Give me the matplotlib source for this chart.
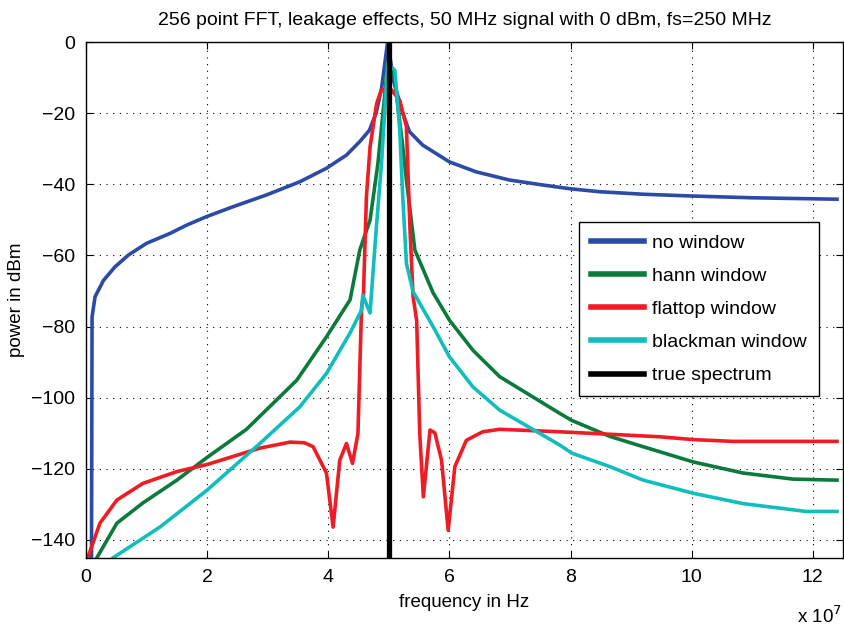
import matplotlib
matplotlib.use("Agg")
from matplotlib import pyplot as plt

plt.rcParams['font.family'] = ['Liberation Sans', 'DejaVu Sans']

# frequencies in MHz, power in dBm
nowin_f = [0.9, 1.0, 1.5, 2.9, 4.8, 7.0, 10.0, 13.9, 16.6, 19.9, 24.3, 29.8, 35.3, 39.7, 43.0,
           45.2, 46.8, 47.9, 48.8, 49.8, 50.8, 52.3, 53.4, 55.6, 60.0, 64.4, 69.9, 75.4, 80.1,
           84.8, 92.0, 100.0, 110.0, 124.0]
nowin_db = [-150, -77.3, -71.6, -67.0, -63.2, -59.9, -56.6, -53.8, -51.5, -49.1, -46.3, -43.0, -39.3,
            -35.5, -31.8, -28.0, -24.8, -20.0, -13.0, 0.0, -11.0, -20.0, -25.2, -29.0, -33.7, -36.5,
            -38.8, -40.2, -41.3, -42.1, -42.8, -43.3, -43.8, -44.2]

hann_f = [1.8, 5.1, 9.4, 15.0, 20.0, 26.5, 34.8, 39.7, 43.6, 45.2, 46.9, 48.2, 49.3, 49.8, 50.8,
          51.3, 52.3, 52.9, 54.3, 57.3, 60.0, 63.9, 68.3, 78.2, 80.2, 86.5, 92.0, 100.3, 108.5,
          116.7, 124.0]
hann_db = [-145.0, -135.3, -129.6, -123.2, -116.8, -108.9, -95.1, -82.9, -72.5, -58.5, -50.1, -34.1,
           -15.4, -6.0, -8.8, -15.4, -29.4, -38.8, -58.5, -70.5, -78.2, -86.7, -94.1, -104.4, -106.4,
           -110.9, -113.8, -118.1, -121.2, -122.9, -123.2]

flat_f = [0.3, 2.3, 5.1, 9.4, 15.0, 20.0, 28.7, 33.7, 36.1, 37.5, 39.7, 40.8, 41.9, 43.0, 44.0,
          44.9, 45.5, 45.8, 46.3, 46.9, 48.0, 48.8, 50.4, 51.8, 52.9, 53.5, 54.0, 54.6, 55.1,
          55.7, 56.8, 57.6, 58.7, 59.8, 60.9, 62.8, 65.5, 68.3, 78.2, 86.5, 94.7, 100.3, 106.8,
          124.0]
flat_db = [-145.0, -135.3, -128.8, -124.1, -120.8, -118.8, -114.2, -112.5, -112.7, -113.8, -121.2,
           -136.4, -117.6, -112.9, -118.5, -110.1, -74.5, -71.5, -43.5, -29.5, -17.2, -13.4, -13.4,
           -16.4, -23.8, -52.8, -71.5, -78.4, -109.9, -127.9, -109.1, -109.9, -117.6, -137.3, -119.4,
           -112.0, -109.6, -108.9, -109.6, -110.3, -111.0, -111.8, -112.3, -112.3]

black_f = [4.5, 12.2, 20.0, 28.7, 35.3, 39.7, 43.6, 45.5, 45.7, 46.9, 47.9, 48.8, 49.3, 49.8,
           51.0, 51.8, 52.3, 52.9, 54.0, 57.3, 60.0, 63.9, 68.3, 78.2, 80.2, 86.5, 92.0, 100.3,
           108.5, 118.9, 124.0]
black_db = [-145.0, -136.4, -126.0, -112.9, -102.6, -93.2, -81.8, -75.4, -71.2, -76.2, -53.0, -34.0,
            -20.0, -6.0, -8.0, -24.8, -43.5, -62.2, -70.2, -80.0, -88.5, -97.0, -103.5, -113.3,
            -115.6, -119.4, -123.2, -126.9, -129.8, -132.0, -132.0]

true_f = [50.0, 50.0]
true_db = [-150.0, 0.0]

labels = ['no window', 'hann window', 'flattop window', 'blackman window', 'true spectrum']

fig = plt.figure(figsize=(8.44, 6.3), dpi=100)
ax = fig.add_axes([0.1019, 0.1148, 0.897, 0.8185])

# x axis is shown in units of 1e7 Hz
def to_axis(f_mhz):
    return [f / 10.0 for f in f_mhz]

ax.plot(to_axis(nowin_f), nowin_db, color='#2b4ba6', lw=2.6, label=labels[0])
ax.plot(to_axis(hann_f), hann_db, color='#0b7a3b', lw=2.6, label=labels[1])
ax.plot(to_axis(flat_f), flat_db, color='#ee1c25', lw=2.6, label=labels[2])
ax.plot(to_axis(black_f), black_db, color='#12bdbd', lw=2.6, label=labels[3])
ax.plot(to_axis(true_f), true_db, color='black', lw=3.8, label=labels[4])

ax.set_xlim(0, 12.5)
ax.set_ylim(-145, 0)
ax.set_xticks(range(0, 13, 2))
ax.set_yticks(range(-140, 1, 20))
ax.tick_params(direction='in', top=True, right=True, length=5, labelsize=14, pad=8)
ax.grid(True, color='black', linestyle=(0, (1, 5)), linewidth=0.8)
for s in ax.spines.values():
    s.set_linewidth(1.0)

ax.set_title('256 point FFT, leakage effects, 50 MHz signal with 0 dBm, fs=250 MHz',
             fontsize=14, pad=12)
ax.set_xlabel('frequency in Hz', fontsize=13.5, labelpad=6)
ax.set_ylabel('power in dBm', fontsize=13.5, labelpad=4)
fig.text(0.997, 0.004, r'x 10$^7$', ha='right', va='bottom', fontsize=13.5)

leg = ax.legend(loc='upper right', bbox_to_anchor=(0.968, 0.651), borderaxespad=0,
                fontsize=14, fancybox=False, framealpha=1, edgecolor='black',
                handlelength=2.75, handletextpad=0.4, labelspacing=0.8, borderpad=0.62)
leg.get_frame().set_linewidth(1.0)
for line in leg.get_lines():
    line.set_linewidth(4)

fig.savefig('out.png', dpi=100)
